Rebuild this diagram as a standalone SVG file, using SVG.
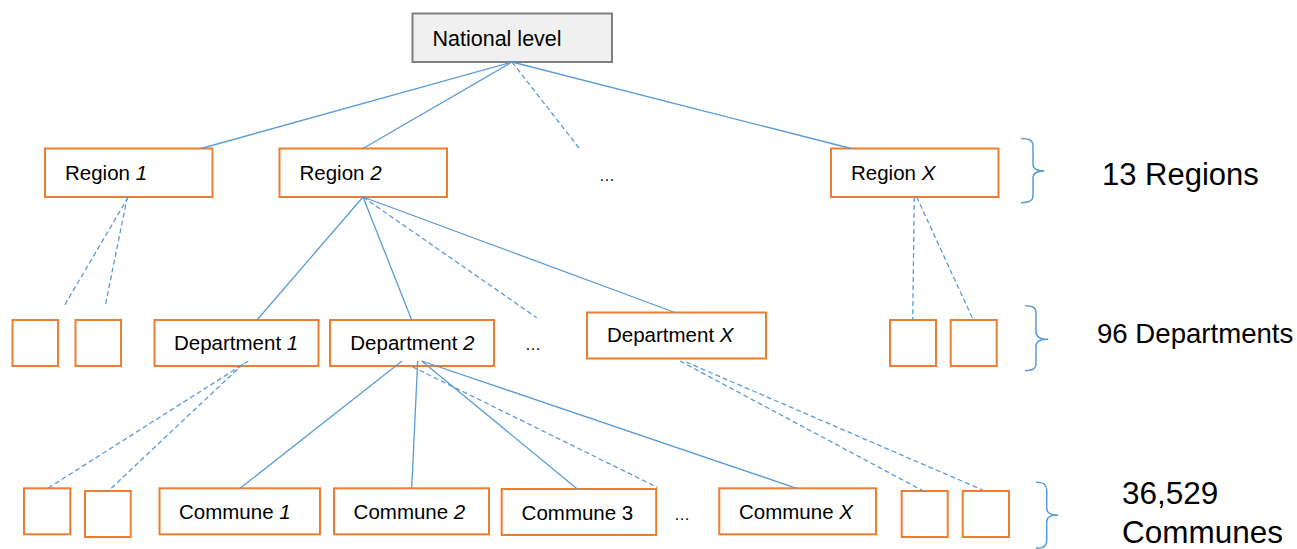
<svg xmlns="http://www.w3.org/2000/svg" width="1297" height="549" viewBox="0 0 1297 549">
<style>
.box{fill:#FFFFFF;stroke:#ED7D31;stroke-width:2}
.nat{fill:#F0F0F0;stroke:#7F7F7F;stroke-width:2}
.lbl{font-family:"Liberation Sans",Arial,sans-serif;font-size:20.5px;fill:#000000}
.big{font-family:"Liberation Sans",Arial,sans-serif;fill:#000000}
.ell{font-family:"Liberation Sans",Arial,sans-serif;font-size:16px;fill:#000000;text-anchor:middle}
.c{stroke:#5B9BD5;stroke-width:1.3;fill:none}
.d{stroke:#5B9BD5;stroke-width:1.3;fill:none;stroke-dasharray:5 3}
.br{stroke:#5B9BD5;stroke-width:1.5;fill:none}
</style>
<rect width="1297" height="549" fill="#FFFFFF"/>
<g id="nodes">
<g id="national"><rect class="nat" x="412.5" y="13.5" width="199.5" height="48.5"/><text class="lbl" x="432.5" y="45.7" style="font-size:21.5px">National level</text></g>
<g id="region1"><rect class="box" x="45" y="148.5" width="167.5" height="48.5"/><text class="lbl" x="65" y="180">Region <tspan font-style="italic">1</tspan></text></g>
<g id="region2"><rect class="box" x="279.5" y="148.5" width="167.5" height="48.5"/><text class="lbl" x="299.5" y="180">Region <tspan font-style="italic">2</tspan></text></g>
<g id="ellipsis1"><text class="ell" x="607" y="181">…</text></g>
<g id="regionX"><rect class="box" x="831" y="148.5" width="167.5" height="48.5"/><text class="lbl" x="851" y="180">Region <tspan font-style="italic">X</tspan></text></g>

<g id="dsmall1"><rect class="box" x="12.5" y="320" width="45.5" height="46"/></g>
<g id="dsmall2"><rect class="box" x="75.5" y="320" width="45.5" height="46"/></g>
<g id="dept1"><rect class="box" x="154.5" y="320" width="164" height="46"/><text class="lbl" x="174" y="350">Department <tspan font-style="italic">1</tspan></text></g>
<g id="dept2"><rect class="box" x="330" y="320" width="164" height="46"/><text class="lbl" x="350.3" y="350">Department <tspan font-style="italic">2</tspan></text></g>
<g id="ellipsis2"><text class="ell" x="533" y="350">…</text></g>
<g id="deptX"><rect class="box" x="587" y="312.5" width="179" height="46"/><text class="lbl" x="607" y="342">Department <tspan font-style="italic">X</tspan></text></g>
<g id="dsmall3"><rect class="box" x="890" y="320" width="46" height="46"/></g>
<g id="dsmall4"><rect class="box" x="950.7" y="320" width="46" height="46"/></g>

<g id="csmall1"><rect class="box" x="24" y="488.3" width="46.3" height="46"/></g>
<g id="csmall2"><rect class="box" x="85" y="491" width="45.7" height="46"/></g>
<g id="commune1"><rect class="box" x="159.5" y="488.3" width="160.5" height="46"/><text class="lbl" x="179" y="519">Commune <tspan font-style="italic">1</tspan></text></g>
<g id="commune2"><rect class="box" x="334" y="488.3" width="155" height="46"/><text class="lbl" x="353.6" y="519">Commune <tspan font-style="italic">2</tspan></text></g>
<g id="commune3"><rect class="box" x="501.7" y="489" width="154.5" height="46"/><text class="lbl" x="521.6" y="520">Commune 3</text></g>
<g id="ellipsis3"><text class="ell" x="682" y="520">…</text></g>
<g id="communeX"><rect class="box" x="719.3" y="488.3" width="156.7" height="46"/><text class="lbl" x="739" y="519">Commune <tspan font-style="italic">X</tspan></text></g>
<g id="csmall3"><rect class="box" x="901.7" y="491" width="46" height="46"/></g>
<g id="csmall4"><rect class="box" x="962.7" y="491" width="46.3" height="46"/></g>
</g>

<g id="connectors">
<line class="c" x1="512" y1="62" x2="201" y2="148.5"/>
<line class="c" x1="512" y1="62" x2="363" y2="148.5"/>
<line class="d" x1="512" y1="62" x2="579" y2="148"/>
<line class="c" x1="512" y1="62" x2="851" y2="148.5"/>
<line class="d" x1="128.3" y1="197" x2="64.3" y2="305.7"/>
<line class="d" x1="127.3" y1="197" x2="105.3" y2="305.7"/>
<line class="c" x1="363" y1="197" x2="257" y2="320"/>
<line class="c" x1="363" y1="197" x2="411.7" y2="320"/>
<line class="d" x1="363" y1="197" x2="536.7" y2="317.7"/>
<line class="c" x1="363" y1="197" x2="675" y2="312.5"/>
<line class="d" x1="914.3" y1="197" x2="912.7" y2="320"/>
<line class="d" x1="916.7" y1="197" x2="973.3" y2="320"/>
<line class="d" x1="248.3" y1="361" x2="48.3" y2="488"/>
<line class="d" x1="243" y1="364" x2="108.3" y2="491"/>
<line class="c" x1="402" y1="361" x2="240" y2="488.3"/>
<line class="c" x1="417.7" y1="361" x2="411.7" y2="488.3"/>
<line class="c" x1="421.7" y1="361" x2="577.3" y2="489"/>
<line class="d" x1="412.3" y1="366.7" x2="657.3" y2="487.3"/>
<line class="c" x1="421.7" y1="361" x2="796.7" y2="488.3"/>
<line class="d" x1="680" y1="361" x2="923.3" y2="491"/>
<line class="d" x1="686" y1="362" x2="982.7" y2="490"/>
</g>

<g id="brace-regions">
<path class="br" d="M1021,138.5 C1029,138.5 1033,140 1033,146 L1033,164 C1033,169 1037,171 1044.3,171 C1037,171 1033,173 1033,178 L1033,196 C1033,201 1029,202.7 1021,202.7"/>
<text class="big" x="1102" y="185" style="font-size:31px">13 Regions</text>
</g>
<g id="brace-departments">
<path class="br" d="M1025,305.7 C1032,305.7 1036,307 1036,313 L1036,332 C1036,337 1040,339.3 1048.3,339.3 C1040,339.3 1036,341 1036,346 L1036,364 C1036,369 1032,370.7 1025,370.7"/>
<text class="big" x="1097" y="343" style="font-size:27.6px">96 Departments</text>
</g>
<g id="brace-communes">
<path class="br" d="M1036,482.3 C1043,482.3 1046.7,484 1046.7,490 L1046.7,508 C1046.7,513 1050,515 1058.3,515 C1050,515 1046.7,517 1046.7,522 L1046.7,541 C1046.7,546 1043,548.3 1036,548.3"/>
<text class="big" x="1122" y="504" style="font-size:31.5px">36,529</text>
<text class="big" x="1122" y="543" style="font-size:31.5px">Communes</text>
</g>
</svg>
